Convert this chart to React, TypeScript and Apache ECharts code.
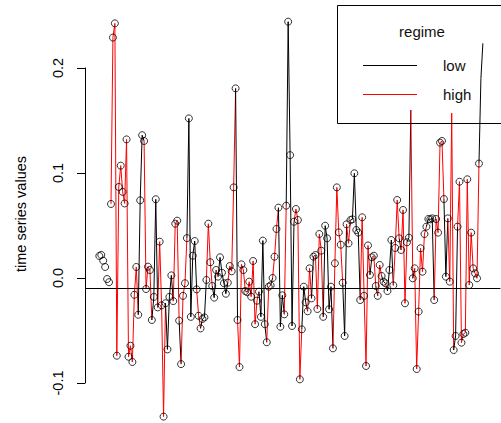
import React, { useEffect, useRef } from "react";
import * as echarts from "echarts";

// time series values (one per time step)
const values: number[] = [
  0.021, 0.022, 0.0165, 0.0105, -0.001, -0.004, 0.0705, 0.229, 0.2425, -0.074,
  0.0867, 0.107, 0.082, 0.071, 0.132, -0.075, -0.0645, -0.08, -0.016, 0.0105,
  -0.035, 0.074, 0.136, 0.1305, -0.0105, 0.0108, 0.0076, -0.04, -0.018, 0.075,
  -0.028, 0.0346, -0.026, -0.132, -0.024, -0.068, -0.018, 0.0025, -0.022, 0.0517,
  0.0546, -0.0406, -0.082, -0.017, -0.005, 0.038, 0.152, -0.037, 0.0212, 0.0352,
  -0.0108, -0.036, -0.048, -0.039, -0.0375, -0.0019, 0.0517, 0.015, -0.0076, -0.0187,
  0.0076, 0.0013, 0.0197, 0.005, -0.005, -0.015, -0.0045, 0.0114, 0.0064, 0.0863,
  0.1806, -0.04, -0.0848, 0.013, 0.0076, -0.0124, -0.0136, -0.0035, -0.0178, 0.0162,
  -0.044, -0.0216, -0.013, -0.037, 0.0356, -0.044, -0.0612, -0.0083, -0.007, 0.0,
  0.0203, 0.0467, 0.067, -0.0464, -0.0165, -0.0346, 0.0689, 0.2441, 0.117, -0.0457,
  0.0536, 0.0657, 0.0552, -0.0965, -0.0489, -0.0083, -0.0232, -0.0317, 0.0092, -0.0194,
  0.0203, 0.0219, -0.0295, 0.0419, 0.026, -0.037, 0.0498, 0.0378, -0.0298, -0.0083,
  -0.067, 0.014, 0.0863, 0.0435, 0.0317, -0.0045, -0.0552, 0.0511, 0.033, 0.0552,
  0.0559, 0.0997, 0.0457, 0.0432, -0.021, 0.0578, -0.017, -0.0838, 0.031, 0.0029,
  0.0197, 0.0212, -0.0076, -0.017, 0.0124, 0.0019, -0.0035, -0.005, -0.0124, 0.0076,
  0.0362, -0.007, 0.0286, 0.0743, 0.0378, 0.0267, 0.0648, -0.0241, 0.034, 0.0384,
  0.16, -0.0003, 0.0092, -0.0867, -0.032, 0.0283, 0.006, 0.0419, 0.0489, 0.0562,
  0.0559, 0.0568, -0.021, 0.0562, 0.0432, 0.1289, 0.1305, 0.0752, 0.0013, 0.0568,
  -0.0035, 0.157, -0.0686, -0.0552, 0.0489, 0.0917, -0.0616, -0.0533, -0.0521, 0.094,
  -0.0067, 0.0432, 0.0092, 0.0044, -0.0003, 0.109, 0.19, 0.2235,
];

// regime of each step (colour of the segment that starts there); "-" = none
const regime: string[] = [
  "-", "-", "-", "-", "-", "-", "H", "H", "H", "H",
  "H", "H", "H", "H", "H", "H", "H", "H", "H", "H",
  "L", "L", "L", "H", "H", "H", "H", "L", "L", "L",
  "H", "H", "H", "H", "L", "L", "L", "L", "H", "H",
  "H", "L", "H", "H", "H", "L", "L", "L", "L", "L",
  "H", "H", "L", "L", "L", "H", "H", "H", "L", "L",
  "H", "L", "L", "L", "L", "L", "H", "H", "H", "H",
  "L", "H", "H", "H", "H", "L", "H", "H", "H", "H",
  "H", "H", "L", "L", "L", "L", "H", "H", "L", "H",
  "H", "H", "L", "L", "L", "H", "L", "L", "L", "L",
  "H", "H", "H", "H", "L", "L", "L", "H", "H", "L",
  "L", "H", "H", "H", "H", "L", "L", "L", "L", "L",
  "H", "H", "H", "H", "H", "L", "L", "H", "H", "L",
  "L", "L", "L", "L", "H", "H", "H", "H", "H", "L",
  "H", "H", "L", "H", "H", "L", "L", "H", "L", "L",
  "L", "H", "H", "H", "L", "H", "H", "H", "L", "L",
  "H", "L", "H", "H", "H", "H", "H", "H", "L", "L",
  "L", "L", "H", "H", "H", "H", "H", "L", "L", "H",
  "H", "H", "L", "L", "H", "H", "H", "H", "H", "H",
  "H", "H", "H", "H", "H", "L", "L", "L",
];

// steps whose point marker is not visible (under the legend box)
const noMarker: number[] = [160, 181, 196, 197];

const threshold = -0.009;
const yTicks: number[] = [-0.1, 0.0, 0.1, 0.2];
const regimeNames = { L: "low", H: "high" };
const regimeColors = { L: "#000000", H: "#ff0000" };
const yTitle = "time series values";
const legendTitle = "regime";

const FONT = "'Liberation Sans', Arial, sans-serif";

export default function App() {
  const ref = useRef<HTMLDivElement>(null);

  useEffect(() => {
    if (!ref.current) return;
    const chart = echarts.init(ref.current, undefined, { renderer: "svg" });
    const N = values.length;

    const lineSeries: any[] = [];
    let i = 0;
    while (i < N - 1) {
      const r = regime[i];
      if (r !== "H" && r !== "L") {
        i++;
        continue;
      }
      let j = i;
      while (j < N - 1 && regime[j] === r) j++;
      const pts: number[][] = [];
      for (let k = i; k <= j; k++) pts.push([k, values[k]]);
      lineSeries.push({
        type: "line",
        name: regimeNames[r as "H" | "L"],
        xAxisIndex: 0,
        yAxisIndex: 0,
        data: pts,
        symbol: "none",
        silent: true,
        clip: false,
        z: 2,
        lineStyle: { color: regimeColors[r as "H" | "L"], width: 1 },
      });
      i = j;
    }

    const pointData = values
      .map((v, k) => [k, v])
      .filter((p) => !noMarker.includes(p[0]));

    const option: any = {
      animation: false,
      backgroundColor: "#ffffff",
      grid: [
        { left: 85.09, top: 10.25, width: 415.3, height: 409.5 },
        { left: 85, top: 68, width: 10, height: 315 },
      ],
      xAxis: [
        { gridIndex: 0, type: "value", min: -7.3, max: 206, show: false },
        { gridIndex: 1, type: "value", min: 0, max: 1, show: false },
      ],
      yAxis: [
        { gridIndex: 0, type: "value", min: -0.135, max: 0.255, show: false },
        {
          gridIndex: 1,
          type: "value",
          min: yTicks[0],
          max: yTicks[yTicks.length - 1],
          interval: 0.1,
          axisLine: { show: true, lineStyle: { color: "#000", width: 1 } },
          axisTick: { show: true, length: 8, lineStyle: { color: "#000", width: 1 } },
          axisLabel: {
            rotate: 90,
            margin: 20,
            fontSize: 14.5,
            color: "#000",
            fontFamily: FONT,
            formatter: (v: number) => v.toFixed(1),
          },
          splitLine: { show: false },
        },
      ],
      series: [
        ...lineSeries,
        {
          type: "scatter",
          xAxisIndex: 0,
          yAxisIndex: 0,
          data: pointData,
          symbol: "circle",
          symbolSize: 7,
          silent: true,
          clip: false,
          z: 3,
          itemStyle: { color: "transparent", borderColor: "#000", borderWidth: 1 },
          markLine: {
            silent: true,
            symbol: "none",
            label: { show: false },
            lineStyle: { color: "#000", width: 1, type: "solid" },
            data: [{ yAxis: threshold }],
          },
        },
        { type: "scatter", xAxisIndex: 1, yAxisIndex: 1, data: [] },
      ],
      graphic: [
        {
          type: "text",
          x: 21,
          y: 214,
          rotation: Math.PI / 2,
          style: {
            text: yTitle,
            fill: "#000",
            font: `14.5px ${FONT}`,
            textAlign: "center",
            textVerticalAlign: "middle",
          },
        },
        {
          type: "rect",
          shape: { x: 337.5, y: 5.5, width: 200, height: 118 },
          style: { fill: "none", stroke: "#000", lineWidth: 1 },
          z: 10,
        },
        {
          type: "text",
          x: 422,
          y: 31,
          style: {
            text: legendTitle,
            fill: "#111",
            font: `15px ${FONT}`,
            textAlign: "center",
            textVerticalAlign: "middle",
          },
          z: 10,
        },
        {
          type: "line",
          shape: { x1: 363, y1: 65.5, x2: 417, y2: 65.5 },
          style: { stroke: regimeColors.L, lineWidth: 1 },
          z: 10,
        },
        {
          type: "line",
          shape: { x1: 363, y1: 94.5, x2: 417, y2: 94.5 },
          style: { stroke: regimeColors.H, lineWidth: 1 },
          z: 10,
        },
        {
          type: "text",
          x: 443,
          y: 65,
          style: {
            text: regimeNames.L,
            fill: "#111",
            font: `15px ${FONT}`,
            textAlign: "left",
            textVerticalAlign: "middle",
          },
          z: 10,
        },
        {
          type: "text",
          x: 443,
          y: 94,
          style: {
            text: regimeNames.H,
            fill: "#111",
            font: `15px ${FONT}`,
            textAlign: "left",
            textVerticalAlign: "middle",
          },
          z: 10,
        },
      ],
    };

    chart.setOption(option);
    return () => chart.dispose();
  }, []);

  return (
    <div
      ref={ref}
      style={{ position: "fixed", left: 0, top: 0, width: 501, height: 423, background: "#fff" }}
    />
  );
}
